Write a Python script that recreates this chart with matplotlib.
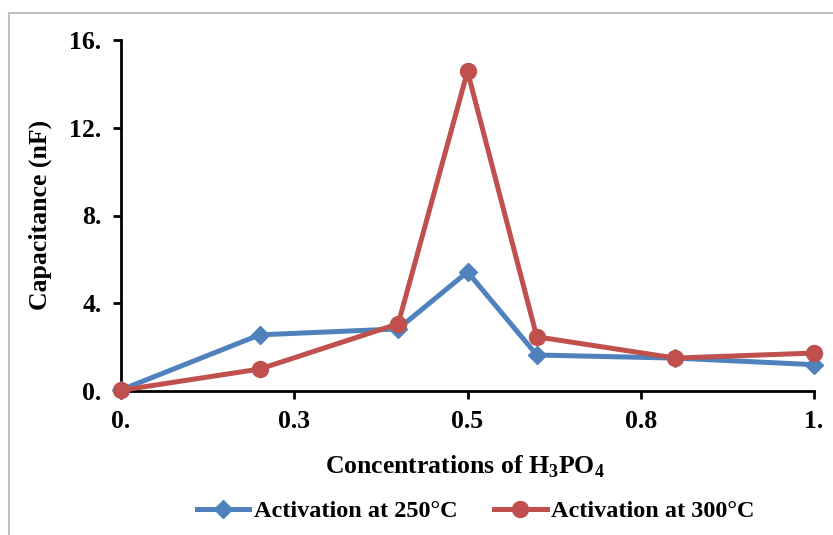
import matplotlib.pyplot as plt
from matplotlib.lines import Line2D
from matplotlib.ticker import FixedLocator, FixedFormatter

# concentration of H3PO4 (x) and capacitance in nF for each activation temperature
conc = [0, 0.2, 0.4, 0.5, 0.6, 0.8, 1.0]
cap_250 = [0.05, 2.56, 2.83, 5.43, 1.64, 1.5, 1.2]
cap_300 = [0.03, 1.0, 3.06, 14.57, 2.47, 1.5, 1.73]

x_ticks = [0, 0.25, 0.5, 0.75, 1.0]
x_labels = ["0.", "0.3", "0.5", "0.8", "1."]
y_ticks = [0, 4, 8, 12, 16]
y_labels = ["0.", "4.", "8.", "12.", "16."]

blue = "#4F81BD"
red = "#C0504D"

plt.rcParams['font.family'] = ['Liberation Serif', 'DejaVu Serif']
plt.rcParams['font.weight'] = 'bold'
plt.rcParams['mathtext.fontset'] = 'custom'
plt.rcParams['mathtext.rm'] = 'Liberation Serif:bold'
plt.rcParams['mathtext.bf'] = 'Liberation Serif:bold'

fig = plt.figure(figsize=(8.33, 5.35), dpi=100)
ax = fig.add_axes([121 / 833, 1 - 391 / 535, (814 - 121) / 833, (391 - 40) / 535])

ax.plot(conc, cap_250, color=blue, lw=3.6, marker='D', ms=9, label="Activation at 250°C",
        clip_on=False, zorder=3)
ax.plot(conc, cap_300, color=red, lw=3.6, marker='o', ms=11.5, label="Activation at 300°C",
        clip_on=False, zorder=4)

ax.set_xlim(0, 1)
ax.set_ylim(0, 16)
ax.xaxis.set_major_locator(FixedLocator(x_ticks))
ax.xaxis.set_major_formatter(FixedFormatter(x_labels))
ax.yaxis.set_major_locator(FixedLocator(y_ticks))
ax.yaxis.set_major_formatter(FixedFormatter(y_labels))

for side in ['top', 'right']:
    ax.spines[side].set_visible(False)
for side in ['left', 'bottom']:
    ax.spines[side].set_linewidth(2)
ax.tick_params(width=2, length=6, labelsize=18.5, pad=8)
for lab in ax.get_xticklabels() + ax.get_yticklabels():
    lab.set_fontweight('bold')

fig.text(465 / 833, 1 - 467 / 535, "Concentrations of H$_{\\mathbf{3}}$PO$_{\\mathbf{4}}$",
         fontsize=18.5, fontweight='bold', ha='center', va='center')
fig.text(40 / 833, 1 - 215 / 535, "Capacitance (nF)", fontsize=18.5, fontweight='bold',
         rotation=90, ha='center', va='center')

leg = fig.legend(loc='center', bbox_to_anchor=(476 / 833, 1 - 511 / 535), ncol=2, frameon=False,
                 prop={'size': 17.5, 'weight': 'bold'}, handlelength=2.15, columnspacing=1.5,
                 handletextpad=0.2)

# light grey chart-area border (left and top only)
fig.add_artist(Line2D([9 / 833, 9 / 833], [0, 1 - 13 / 535], color='#BFBFBF', lw=1.5))
fig.add_artist(Line2D([9 / 833, 1], [1 - 13 / 535, 1 - 13 / 535], color='#BFBFBF', lw=1.5))

fig.savefig("out.png", dpi=100)
